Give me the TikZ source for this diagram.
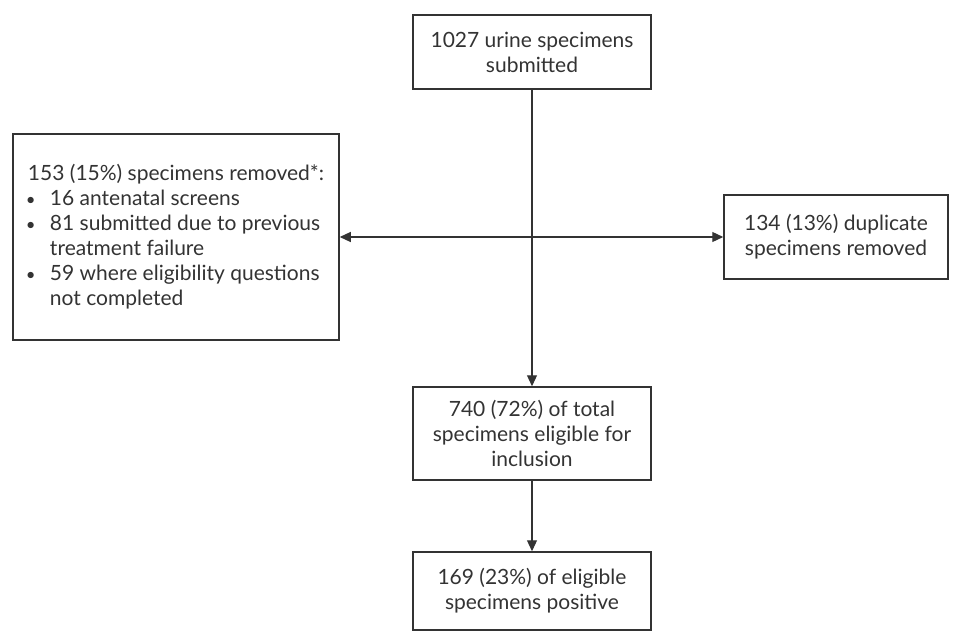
\documentclass[tikz,border=0pt]{standalone}
\usepackage{fontspec}
\setmainfont{Lato}
\usepackage{xcolor}
\usepackage{tikz}
\usetikzlibrary{arrows.meta, positioning}

\definecolor{ink}{HTML}{333333}
\newcommand{\blt}{\makebox[11pt][l]{\hspace*{-1pt}\scalebox{0.8}{\textbullet}}}
\newcommand{\cont}{\hspace*{11pt}}

\begin{document}
\begin{tikzpicture}[x=0.5pt, y=-0.5pt, >={Triangle[length=5.5pt, width=5pt]}]
        \tikzset{
            box/.style={rectangle, draw=ink, line width=0.75pt, text=ink, align=center, font=\fontsize{10.5}{12.5}\selectfont, minimum width=119pt},
            link/.style={draw=ink, line width=0.6pt}
        }
        \useasboundingbox (0,0) rectangle (954,631);

        \node[box, minimum height=37pt] (submitted) at (532,52) {1027 urine specimens\\submitted};
        \node[box, minimum width=163pt, minimum height=103pt, align=left] (removed) at (176,237)
            {153 (15\%) specimens removed*:\\
             \blt 16 antenatal screens\\
             \blt 81 submitted due to previous\\
             \cont treatment failure\\
             \blt 59 where eligibility questions\\
             \cont not completed};
        \node[box, minimum width=112pt, minimum height=42pt] (duplicate) at (836,237) {134 (13\%) duplicate\\specimens removed};
        \node[box, minimum height=46.5pt] (eligible) at (532,433.5) {740 (72\%) of total\\specimens eligible for\\inclusion};
        \node[box, minimum height=39pt] (positive) at (532,591) {169 (23\%) of eligible\\specimens positive};

        \draw[link, ->] (submitted) -- (eligible);
        \draw[link, <->] (removed) -- (duplicate);
        \draw[link, ->] (eligible) -- (positive);

    \end{tikzpicture}
\end{document}
